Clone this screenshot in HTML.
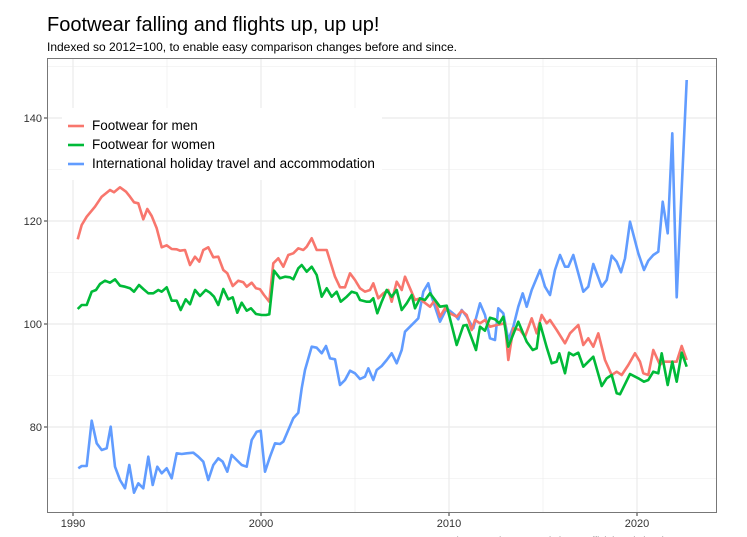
<!DOCTYPE html>
<html><head><meta charset="utf-8"><style>
html,body{margin:0;padding:0;background:#fff;width:747px;height:537px;overflow:hidden}
svg{display:block;font-family:"Liberation Sans",sans-serif}
</style></head><body>
<svg id="s" width="747" height="537" viewBox="0 0 747 537" xmlns="http://www.w3.org/2000/svg">
<text x="47" y="31" font-size="20" fill="#000">Footwear falling and flights up, up up!</text>
<text x="47" y="51" font-size="12" fill="#000">Indexed so 2012=100, to enable easy comparison changes before and since.</text>
<g stroke="#ebebeb" stroke-width="0.6">
<line x1="47" x2="716" y1="66.5" y2="66.5"/><line x1="47" x2="716" y1="169.5" y2="169.5"/><line x1="47" x2="716" y1="272.5" y2="272.5"/><line x1="47" x2="716" y1="375.5" y2="375.5"/><line x1="47" x2="716" y1="478.5" y2="478.5"/>
<line y1="58" y2="512" x1="167" x2="167"/><line y1="58" y2="512" x1="355" x2="355"/><line y1="58" y2="512" x1="543" x2="543"/>
</g>
<g stroke="#ebebeb" stroke-width="1.2">
<line x1="47" x2="716" y1="118" y2="118"/><line x1="47" x2="716" y1="221" y2="221"/><line x1="47" x2="716" y1="324" y2="324"/><line x1="47" x2="716" y1="427" y2="427"/>
<line y1="58" y2="512" x1="73" x2="73"/><line y1="58" y2="512" x1="261" x2="261"/><line y1="58" y2="512" x1="449" x2="449"/><line y1="58" y2="512" x1="637" x2="637"/>
</g>
<g id="lines" fill="none" stroke-width="2.6" stroke-linejoin="round"></g>
<rect x="47.5" y="58.5" width="669" height="454" fill="none" stroke="#777" stroke-width="1"/>
<g font-size="11" fill="#333" text-anchor="end">
<text x="42" y="122">140</text><text x="42" y="225">120</text><text x="42" y="328">100</text><text x="42" y="431">80</text>
</g>
<g stroke="#333" stroke-width="1"><line x1="44" x2="47" y1="118" y2="118"/><line x1="44" x2="47" y1="221" y2="221"/><line x1="44" x2="47" y1="324" y2="324"/><line x1="44" x2="47" y1="427" y2="427"/>
<line x1="73" x2="73" y1="513" y2="516"/><line x1="261" x2="261" y1="513" y2="516"/><line x1="449" x2="449" y1="513" y2="516"/><line x1="637" x2="637" y1="513" y2="516"/></g>
<g font-size="11" fill="#333" text-anchor="middle">
<text x="73" y="527">1990</text><text x="261" y="527">2000</text><text x="449" y="527">2010</text><text x="637" y="527">2020</text>
</g>
<text x="455" y="544" font-size="10" fill="#666">(ONS CPI): Accessed via UK official statistics data</text>
<rect x="62" y="108" width="320" height="72" fill="#fff"/>
<line x1="68" x2="84" y1="126" y2="126" stroke="#F8766D" stroke-width="2.6"/>
<line x1="68" x2="84" y1="145" y2="145" stroke="#00BA38" stroke-width="2.6"/>
<line x1="68" x2="84" y1="164" y2="164" stroke="#619CFF" stroke-width="2.6"/>
<g font-size="13.5" fill="#000"><text x="92" y="130">Footwear for men</text><text x="92" y="149">Footwear for women</text><text x="92" y="168">International holiday travel and accommodation</text></g>
</svg>
<script>
function conv(a,ox,oy,lo,hi){var r=[];for(var i=0;i<a.length;i+=2){if(a[i]<lo||a[i]>hi)continue;r.push((ox+a[i]/3).toFixed(1)+","+(oy+a[i+1]/3).toFixed(1));}return r;}
var R1=[113,238,125,195,140,170,165,140,185,110,210,90,222,97,240,82,258,95,270,110,282,127,295,130,310,178,322,147,335,168,350,205,365,262,380,256,395,267,410,268,420,272,435,270,450,315,465,290,478,305,490,270,505,262,520,292,535,290,550,330,562,340,578,378,595,362,610,367,620,380,635,368,648,385,660,388,672,405,688,425];
var R2=[70,190,85,175,100,200,115,165,130,160,145,145,160,150,170,140,185,115,200,150,215,150,230,150,255,230,270,262,285,262,300,220,315,240,330,265,345,275,360,270,370,250,385,295,400,280,415,270,425,305,440,245,455,270,465,230,480,265,495,300,510,295,520,305,540,320,555,300,570,345,585,330,600,320,620,335,645,345,665,400,680,360,700,370];
var R3=[0,770,15,745,30,760,50,770,65,752,80,765,95,810,105,780,120,790,135,780,150,800,170,795,195,790,205,900,220,805,240,810,255,830,275,775,290,820,305,765,320,790,330,780,350,810,375,850,390,820,415,795,430,855,445,835,460,860,475,820,495,900,515,945,530,935,545,945,565,915,585,880,600,905,610,940,625,945,640,870,660,915,670,905,685,905,697,905,710,905,725,858,740,900];
var G1=[113,447,125,435,140,435,155,395,168,390,180,372,195,362,210,368,225,358,240,377,255,380,270,385,282,395,297,375,310,387,325,400,340,400,355,390,365,395,380,382,395,422,410,422,422,450,437,418,450,433,465,390,480,408,497,390,510,398,522,410,535,435,550,387,565,418,578,412,592,458,605,428,620,452,633,445,648,462,665,465,678,465,688,463];
var G2=[72,212,90,235,105,230,120,232,130,238,145,205,155,195,170,215,185,200,200,225,215,290,230,265,245,290,260,275,272,305,290,290,305,275,320,280,330,300,350,305,360,305,370,295,382,340,395,305,410,270,425,290,440,270,455,330,470,310,485,285,495,325,510,295,525,300,540,280,560,355,580,320,595,320,605,360,620,435,635,380,655,375,675,450,690,380,705,395];
var G3=[0,740,20,737,50,855,70,797,80,795,95,835,108,870,120,800,135,812,150,773,165,778,178,790,190,770,205,860,235,785,260,845,278,870,290,865,300,790,320,862,335,910,350,905,358,880,375,940,387,878,400,886,415,878,430,920,460,890,485,978,500,955,515,945,530,1000,540,1003,570,942,595,955,612,965,625,960,640,935,655,940,665,880,683,975,697,905,710,965,725,878,740,920];
var B1=[115,925,125,918,140,918,155,782,170,850,185,870,200,865,212,800,225,920,240,960,255,985,268,915,282,998,295,970,310,985,325,890,338,975,352,920,365,940,380,925,395,955,410,880,425,882,440,880,460,878,475,890,490,905,505,960,520,915,535,895,548,905,562,935,575,885,590,900,605,915,620,920,635,840,650,815,662,812,675,938,690,890,705,850,720,852];
var B2=[15,695,35,690,45,815,60,770,75,730,90,732,100,725,115,690,130,655,145,638,155,565,165,510,185,440,200,443,215,460,228,438,240,475,255,478,270,555,285,540,300,512,315,520,330,537,345,530,355,505,370,540,380,510,395,498,410,480,425,460,440,490,455,450,465,395,480,380,495,365,505,355,520,275,535,250,545,290,555,320,565,370,580,350,595,325,610,340,625,355,640,335,655,365,670,385,690,310,705,345];
var B3=[0,785,20,745,45,765,55,778,65,750,80,770,100,805,120,730,135,765,150,835,165,840,175,745,190,760,205,840,220,800,235,740,248,700,260,740,275,690,300,630,315,680,330,705,345,630,360,585,375,620,385,620,400,585,430,695,445,680,460,612,485,680,500,660,515,587,530,605,543,637,555,595,570,485,595,580,612,630,625,602,640,585,655,575,668,425,683,520,697,220,710,712,740,60];
var sets=[["#619CFF",conv(B1,40,160,0,665).concat(conv(B2,250,200,40,556),conv(B3,440,60,0,9999))],["#F8766D",conv(R1,40,160,0,9999).concat(conv(R2,250,200,0,556),conv(R3,440,60,0,9999))],["#00BA38",conv(G1,40,160,0,9999).concat(conv(G2,250,200,0,556),conv(G3,440,60,0,9999))]];
var g=document.getElementById("lines"),h="";
sets.forEach(function(s){h+='<polyline stroke="'+s[0]+'" points="'+s[1].join(" ")+'"/>';});
g.innerHTML=h;
</script>
</body></html>
